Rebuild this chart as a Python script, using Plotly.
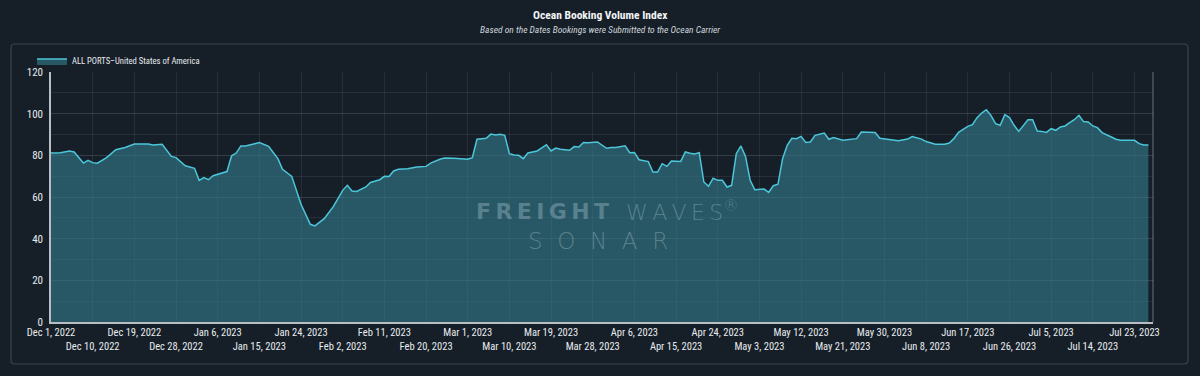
import pandas as pd
import plotly.graph_objects as go

START = "2022-12-01"
# day offsets from Dec 1, 2022 and the index value read at each
day_offsets = [0, 2, 4, 5, 7, 8, 9, 10, 12, 14, 16, 18, 21, 22, 24, 26, 27, 29, 31, 32,
               33, 34, 35, 38, 39, 40, 41, 42, 44, 45, 47, 49, 50, 52, 54, 56, 57, 59, 61, 63,
               64, 65, 66, 68, 69, 71, 72, 73, 74, 75, 77, 79, 81, 82, 84, 85, 87, 90, 91, 92,
               94, 95, 96, 97, 98, 99, 100, 101, 102, 103, 105, 106, 107, 108, 109, 110, 112, 113, 114, 115,
               116, 118, 120, 121, 122, 124, 125, 126, 127, 129, 130, 131, 132, 133, 134, 136, 137, 138, 139, 140,
               141, 142, 143, 144, 145, 146, 147, 148, 149, 150, 151, 152, 153, 154, 155, 156, 157, 158, 159, 160,
               161, 162, 163, 164, 165, 167, 168, 169, 171, 173, 174, 175, 178, 179, 181, 183, 185, 186, 188, 189,
               191, 193, 194, 195, 196, 198, 199, 200, 201, 202, 203, 204, 205, 206, 207, 208, 209, 210, 211, 212,
               213, 214, 215, 216, 217, 218, 219, 220, 221, 222, 223, 224, 225, 226, 227, 229, 230, 231, 233, 234,
               235, 236, 237]
values = [81.1, 81.3, 82.1, 81.6, 76.3, 77.6, 76.5, 76.2, 78.9, 82.7, 83.8, 85.4, 85.4, 85.0, 85.3, 79.5, 78.9, 75.0, 73.8, 68.0,
          69.3, 68.3, 70.2, 72.2, 79.8, 81.1, 84.5, 84.5, 85.6, 86.1, 84.3, 78.4, 73.3, 69.9, 56.5, 46.9, 46.1, 49.6, 55.5, 63.2,
          65.6, 62.9, 62.7, 64.8, 67.0, 68.3, 69.9, 69.8, 72.5, 73.3, 73.6, 74.4, 74.7, 76.3, 78.1, 78.7, 78.6, 78.1, 78.9, 87.7,
          88.2, 90.2, 89.8, 90.1, 89.6, 80.8, 80.2, 80.0, 78.4, 81.1, 82.1, 83.7, 85.1, 82.1, 83.5, 82.9, 82.4, 84.2, 84.0, 86.2,
          86.1, 86.4, 83.4, 83.8, 83.8, 84.6, 81.3, 81.4, 77.9, 77.0, 72.0, 72.0, 76.0, 74.7, 77.3, 77.1, 81.6, 81.0, 80.6, 81.3,
          67.2, 65.1, 69.0, 68.0, 68.0, 64.8, 65.6, 80.8, 84.5, 79.5, 68.0, 63.5, 63.5, 63.8, 62.2, 65.4, 66.1, 78.4, 84.8, 88.2,
          88.0, 89.1, 86.2, 86.4, 89.6, 90.7, 87.7, 88.5, 87.2, 87.8, 88.0, 91.2, 91.0, 88.2, 87.7, 87.0, 87.8, 89.0, 87.8, 86.6,
          85.3, 85.3, 85.9, 88.0, 91.0, 93.9, 94.7, 98.1, 100.3, 101.9, 99.2, 95.2, 94.4, 99.5, 98.1, 94.4, 91.5, 94.4, 97.1, 97.1,
          91.7, 91.5, 91.0, 92.8, 92.0, 93.6, 94.1, 95.7, 97.1, 99.2, 96.2, 96.0, 94.1, 93.3, 90.9, 88.8, 87.7, 87.2, 87.4, 87.2,
          85.6, 85.0, 85.0]

tick_labels = ["Dec 1, 2022", "Dec 10, 2022", "Dec 19, 2022", "Dec 28, 2022", "Jan 6, 2023", "Jan 15, 2023",
               "Jan 24, 2023", "Feb 2, 2023", "Feb 11, 2023", "Feb 20, 2023", "Mar 1, 2023", "Mar 10, 2023",
               "Mar 19, 2023", "Mar 28, 2023", "Apr 6, 2023", "Apr 15, 2023", "Apr 24, 2023", "May 3, 2023",
               "May 12, 2023", "May 21, 2023", "May 30, 2023", "Jun 8, 2023", "Jun 17, 2023", "Jun 26, 2023",
               "Jul 5, 2023", "Jul 14, 2023", "Jul 23, 2023"]
series_name = "ALL PORTS–United States of America"

dates = pd.Timestamp(START) + pd.to_timedelta(day_offsets, unit="D")
tick_vals = pd.to_datetime(tick_labels, format="%b %d, %Y")
tick_text = [t if i % 2 == 0 else "<br>" + t for i, t in enumerate(tick_labels)]

FONT = "Roboto Condensed, Liberation Sans Narrow, DejaVu Sans Condensed, Roboto, sans-serif"
BG = "#161f28"
GRID = "rgba(255,255,255,0.07)"
WM = "rgba(160,188,198,0.42)"
TS = "\u2009"

# plot-area pixel helpers for paper coordinates (plot area: x 51..1153, y 72..322)
def px(x):
    return (x - 51) / 1102

def py(y):
    return (322 - y) / 250

fig = go.Figure()
fig.add_trace(go.Scatter(
    x=dates, y=values, mode="lines", name=series_name,
    line=dict(color="#4cc6da", width=1.5),
    fill="tozeroy", fillcolor="rgba(52,124,140,0.62)",
))

fig.update_layout(
    width=1200, height=376,
    paper_bgcolor=BG, plot_bgcolor=BG,
    margin=dict(l=51, r=47, t=72, b=54, autoexpand=False),
    font=dict(family=FONT, color="#e8ecef", size=11),
    showlegend=True,
    legend=dict(x=px(32), y=py(61), xanchor="left", yanchor="middle", orientation="h",
                font=dict(size=8.6, color="#e8ecef"), bgcolor="rgba(0,0,0,0)"),
    xaxis=dict(
        range=["2022-12-01", "2023-07-27"], automargin=False,
        tickmode="array", tickvals=tick_vals, ticktext=tick_text,
        tickangle=0, showgrid=True, gridcolor=GRID, gridwidth=1,
        showline=True, linecolor="#b8bec4", linewidth=1.5,
        ticks="", tickfont=dict(size=10.5, color="#e8ecef"),
        zeroline=False,
    ),
    yaxis=dict(
        range=[0, 120], tickvals=[0, 20, 40, 60, 80, 100, 120], automargin=False,
        showgrid=True, gridcolor=GRID, gridwidth=1,
        minor=dict(dtick=10, showgrid=True, gridcolor=GRID),
        showline=True, linecolor="#b8bec4", linewidth=1.5,
        ticks="", tickfont=dict(size=11, color="#e8ecef"), ticklabelstandoff=4,
        zeroline=False,
    ),
    annotations=[
        dict(text="<b>Ocean Booking Volume Index</b>", xref="paper", yref="paper",
             x=px(600), y=py(15), xanchor="center", yanchor="middle", showarrow=False,
             font=dict(size=11.5, color="#f2f4f6")),
        dict(text="<i>Based on the Dates Bookings were Submitted to the Ocean Carrier</i>",
             xref="paper", yref="paper", x=px(600), y=py(29), xanchor="center",
             yanchor="middle", showarrow=False, font=dict(size=9.5, color="#cfd5da")),
        dict(text=TS.join("FREIGHT"), xref="paper", yref="paper",
             x=px(474), y=py(211), xanchor="left", yanchor="middle", showarrow=False,
             font=dict(family="DejaVu Sans", size=22, weight="bold", color=WM)),
        dict(text=TS.join("WAVES") + "<sup>®</sup>", xref="paper", yref="paper",
             x=px(624), y=py(211), xanchor="left", yanchor="middle", showarrow=False,
             font=dict(family="DejaVu Sans", size=22, weight=200, color=WM)),
        dict(text=("\u00a0" * 2).join("SONAR"), xref="paper", yref="paper",
             x=px(598), y=py(241), xanchor="center", yanchor="middle", showarrow=False,
             font=dict(family="DejaVu Sans", size=23, weight=200, color=WM)),
    ],
    shapes=[
        dict(type="line", xref="paper", yref="paper", x0=1, x1=1, y0=0, y1=1,
             line=dict(color="rgba(255,255,255,0.18)", width=2), layer="above"),
        dict(type="path", xref="paper", yref="paper",
             path="M {a},{b} L {c},{b} Q {c2},{b} {c2},{b2} L {c2},{d} Q {c2},{d2} {c},{d2} L {a},{d2} Q {a2},{d2} {a2},{d} L {a2},{b2} Q {a2},{b} {a},{b} Z".format(
                 a=px(15), a2=px(11), c=px(1184), c2=px(1188),
                 b=py(44), b2=py(48), d=py(360), d2=py(364)),
             line=dict(color="#3a444d", width=1.2), layer="below"),
    ],
)

fig.write_html("out.html", config={"displayModeBar": False},
               post_script="document.body.style.margin='0';document.body.style.background='%s';" % BG)
